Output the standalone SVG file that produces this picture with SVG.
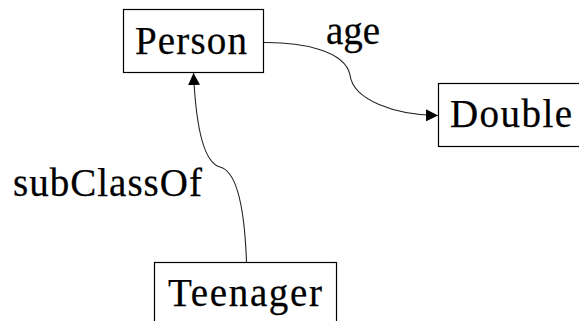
<svg xmlns="http://www.w3.org/2000/svg" width="579" height="321" viewBox="0 0 579 321">
  <style>
    .box { fill: #ffffff; stroke: #000000; stroke-width: 1.2; }
    .edge { fill: none; stroke: #222222; stroke-width: 1.1; }
    text { font-family: 'Liberation Serif', 'Times New Roman', serif; font-size: 39px; fill: #000000; stroke: #000000; stroke-width: 0.25; }
  </style>
  <defs>
    <marker id="arrow" viewBox="0 0 12 12" refX="12" refY="6" markerWidth="12" markerHeight="12" markerUnits="userSpaceOnUse" orient="auto">
      <path d="M0,0 L12,6 L0,12 Z" fill="#000000"/>
    </marker>
  </defs>
  <rect width="579" height="321" fill="#ffffff"/>

  <!-- connectors with their labels -->
  <g id="edges">
    <path class="edge" d="M263.5,42.5 C300,42 345,50 350,75 C353,100 395,115 438,115.5" marker-end="url(#arrow)"/>
    <text x="326" y="44" textLength="54">age</text>
    <path class="edge" d="M246.5,262 C245,220 240,172 220,167 C205,163 196,130 193.5,73" marker-end="url(#arrow)"/>
    <text x="13" y="196" textLength="189">subClassOf</text>
  </g>

  <g id="person">
    <rect class="box" x="123.5" y="9.5" width="140" height="63"/>
    <text x="135" y="54" textLength="112">Person</text>
  </g>

  <g id="double">
    <rect class="box" x="438.5" y="83.5" width="150" height="63"/>
    <text x="450" y="127" textLength="122">Double</text>
  </g>

  <g id="teenager">
    <rect class="box" x="154.5" y="262.5" width="182" height="70"/>
    <text x="168" y="306" textLength="154">Teenager</text>
  </g>
</svg>
